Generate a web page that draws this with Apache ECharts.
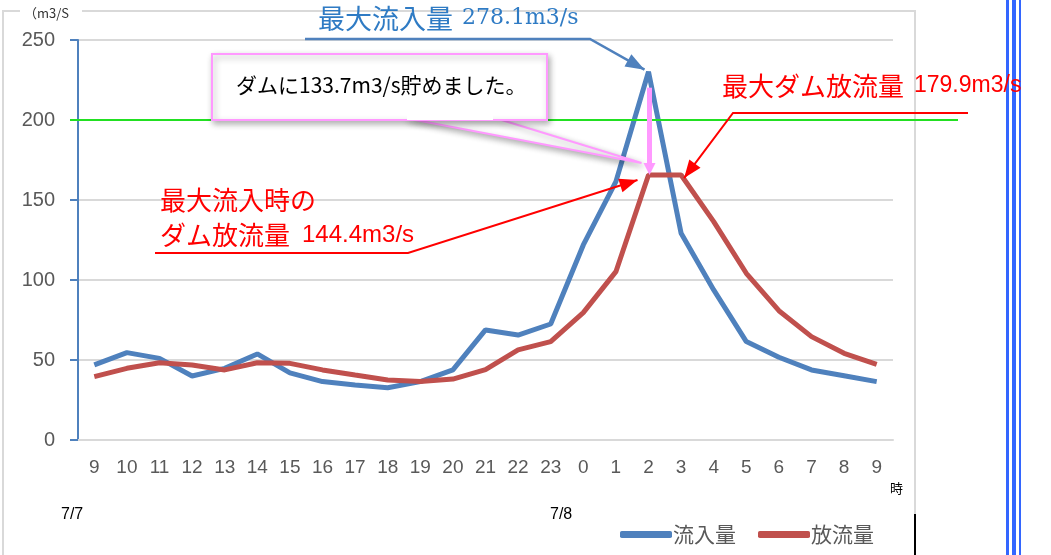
<!DOCTYPE html>
<html>
<head>
<meta charset="utf-8">
<script src="https://cdn.jsdelivr.net/npm/echarts@6/dist/echarts.min.js"></script>
<style>
  html, body { margin: 0; padding: 0; background: #fff; }
  #main { width: 1051px; height: 555px; }
</style>
</head>
<body>
<div id="main"></div>
<script>
// 時刻 (7/7 9時 〜 7/8 9時)
var hours = ["9", "10", "11", "12", "13", "14", "15", "16", "17", "18", "19", "20", "21", "22", "23",
             "0", "1", "2", "3", "4", "5", "6", "7", "8", "9"];
// 流入量 m3/s
var inflow = [46.9, 54.6, 51.0, 40.0, 44.8, 53.8, 42.0, 36.5, 34.4, 32.7, 36.5, 43.8, 68.8, 65.6, 72.5,
              121.9, 161.5, 230.2, 129.2, 93.8, 61.5, 51.7, 43.8, 40.2, 36.5];
// 放流量 m3/s
var outflow = [39.6, 44.8, 48.3, 46.9, 43.8, 48.3, 47.9, 43.8, 40.6, 37.5, 36.5, 38.1, 44.0, 56.3, 61.5,
               79.6, 105.2, 165.6, 165.6, 136.5, 104.2, 80.8, 64.6, 54.2, 47.3];
var yTicks = { min: 0, max: 250, interval: 50 };
var limitLine = 200; // 緑の線

var blue = "#4f81bd";
var red = "#c0504d";
var cjk = "'Noto Sans CJK JP', sans-serif";

var chart = echarts.init(document.getElementById("main"));

chart.setOption({
  animation: false,
  backgroundColor: "#fff",
  grid: { left: 78, right: 158, top: 40, bottom: 115 },
  legend: {
    left: 615,
    top: 519,
    itemWidth: 52,
    itemHeight: 7,
    itemGap: 22,
    icon: "roundRect",
    textStyle: { fontSize: 21, color: "#595959", fontFamily: cjk, padding: [0, 0, 0, -4] },
    data: ["流入量", "放流量"]
  },
  xAxis: {
    type: "category",
    data: hours,
    boundaryGap: true,
    axisLine: { lineStyle: { color: "#d9d9d9", width: 2 } },
    axisTick: { show: false },
    axisLabel: {
      interval: 0,
      margin: 18,
      fontSize: 19,
      color: "#595959",
      fontFamily: "'Liberation Sans Narrow', 'Liberation Sans', sans-serif"
    }
  },
  yAxis: {
    type: "value",
    min: yTicks.min,
    max: yTicks.max,
    interval: yTicks.interval,
    axisLine: { show: true, lineStyle: { color: blue, width: 2 } },
    axisTick: { show: true, length: 8, lineStyle: { color: blue, width: 2 } },
    splitLine: { lineStyle: { color: "#d9d9d9", width: 2 } },
    axisLabel: { margin: 23, fontSize: 20, color: "#595959", fontFamily: "'Liberation Sans', sans-serif" }
  },
  series: [
    {
      name: "流入量",
      type: "line",
      data: inflow,
      symbol: "none",
      color: blue,
      lineStyle: { width: 5, color: blue }
    },
    {
      name: "放流量",
      type: "line",
      data: outflow,
      symbol: "none",
      color: red,
      lineStyle: { width: 5, color: red }
    }
  ]
});

// 矢印の先端
function head(tip, from, len, wid, color) {
  var dx = tip[0] - from[0], dy = tip[1] - from[1];
  var d = Math.sqrt(dx * dx + dy * dy);
  var ux = dx / d, uy = dy / d;
  var bx = tip[0] - ux * len, by = tip[1] - uy * len;
  return {
    type: "polygon",
    z: 120,
    shape: { points: [tip, [bx - uy * wid / 2, by + ux * wid / 2], [bx + uy * wid / 2, by - ux * wid / 2]] },
    style: { fill: color }
  };
}
function pline(points, color, width, z) {
  return { type: "polyline", z: z || 110, shape: { points: points }, style: { stroke: color, lineWidth: width, fill: null } };
}

var peakIdx = inflow.indexOf(Math.max.apply(null, inflow));
var peakIn = chart.convertToPixel({ gridIndex: 0 }, [peakIdx, inflow[peakIdx]]);
var outAtPeak = chart.convertToPixel({ gridIndex: 0 }, [peakIdx, outflow[peakIdx]]);
var outMaxEnd = chart.convertToPixel({ gridIndex: 0 }, [peakIdx + 1, outflow[peakIdx + 1]]);
var yLimit = chart.convertToPixel({ gridIndex: 0 }, [0, limitLine])[1];

var blueTip = [peakIn[0] - 4, peakIn[1] - 2];
var redTip1 = [outAtPeak[0] - 11, outAtPeak[1] + 5];
var redTip2 = [outMaxEnd[0] + 3, outMaxEnd[1] + 3];
var pinkTip = [peakIn[0] + 1, outAtPeak[1]];

var g = [
  // 外枠
  { type: "polyline", z: 1, shape: { points: [[3, 555], [3, 11], [915, 11], [915, 514]] }, style: { stroke: "#d9d9d9", lineWidth: 2, fill: null } },
  { type: "line", z: 1, shape: { x1: 915, y1: 514, x2: 915, y2: 555 }, style: { stroke: "#000", lineWidth: 2 } },
  // 右端の青線
  { type: "rect", z: 1, shape: { x: 1006, y: 0, width: 3, height: 555 }, style: { fill: "#3366ff" } },
  { type: "rect", z: 1, shape: { x: 1012, y: 0, width: 4, height: 555 }, style: { fill: "#3366ff" } },
  { type: "rect", z: 1, shape: { x: 1019, y: 0, width: 2, height: 555 }, style: { fill: "#3366ff" } },
  // 単位
  { type: "rect", z: 2, shape: { x: 20, y: 4, width: 62, height: 20 }, style: { fill: "#fff" } },
  { type: "text", z: 3, left: 24, top: 7, style: { text: "（m3/S", fontSize: 13, fill: "#333", fontFamily: cjk } },
  { type: "text", z: 3, left: 890, top: 482, style: { text: "時", fontSize: 13, fill: "#000", fontFamily: cjk } },
  { type: "text", z: 3, left: 61, top: 507, style: { text: "7/7", fontSize: 16, fill: "#000", fontFamily: "'Liberation Sans', sans-serif" } },
  { type: "text", z: 3, left: 550, top: 507, style: { text: "7/8", fontSize: 16, fill: "#000", fontFamily: "'Liberation Sans', sans-serif" } },
  // 緑の線 (200 m3/s)
  { type: "line", z: 50, shape: { x1: 70, y1: yLimit, x2: 958, y2: yLimit }, style: { stroke: "#22e022", lineWidth: 2 } },

  // 最大流入量
  {
    type: "text", z: 130, left: 318, top: 5,
    style: {
      text: "{a|最大流入量}{b|278.1m3/s}",
      rich: {
        a: { fontSize: 27, fill: "#2f7bc4", fontFamily: cjk },
        b: { fontSize: 22, fill: "#2f7bc4", fontFamily: "'DejaVu Serif', serif", padding: [0, 0, 0, 9] }
      }
    }
  },
  pline([[305, 39], [590, 39], blueTip], blue, 2.5),
  head(blueTip, [590, 39], 19, 14, blue),

  // 貯留量ボックス
  {
    type: "polygon", z: 100,
    shape: { points: [[405, 118], [495, 118], [pinkTip[0] - 8, pinkTip[1] - 12]] },
    style: { fill: "#fff", stroke: "#ff99ff", lineWidth: 2, shadowBlur: 6, shadowColor: "rgba(0,0,0,0.3)", shadowOffsetX: 2, shadowOffsetY: 3 }
  },
  {
    type: "rect", z: 101,
    shape: { x: 212, y: 54, width: 335, height: 66 },
    style: { fill: "#fff", stroke: "#ff99ff", lineWidth: 2, shadowBlur: 6, shadowColor: "rgba(0,0,0,0.3)", shadowOffsetX: 2, shadowOffsetY: 3 }
  },
  { type: "rect", z: 102, shape: { x: 407, y: 112, width: 86, height: 8 }, style: { fill: "#fff" } },
  { type: "text", z: 103, left: 236, top: 75, style: { text: "ダムに133.7m3/s貯めました。", fontSize: 21, fill: "#000", fontFamily: cjk } },
  // ピンクの矢印
  pline([[pinkTip[0], peakIn[1] + 16], [pinkTip[0], pinkTip[1] - 10]], "#ff99ff", 5, 115),
  head(pinkTip, [pinkTip[0], peakIn[1]], 12, 12, "#ff99ff"),

  // 最大ダム放流量
  {
    type: "text", z: 130, left: 722, top: 73,
    style: {
      text: "{a|最大ダム放流量}{b|179.9m3/s}",
      rich: {
        a: { fontSize: 26, fill: "#ff0000", fontFamily: cjk },
        b: { fontSize: 23, fill: "#ff0000", fontFamily: "'Liberation Sans', sans-serif", padding: [0, 0, 0, 10] }
      }
    }
  },
  pline([[968, 113], [733, 113], redTip2], "#ff0000", 2),
  head(redTip2, [733, 113], 18, 14, "#ff0000"),

  // 最大流入時の放流量
  { type: "text", z: 130, left: 160, top: 187, style: { text: "最大流入時の", fontSize: 26, fill: "#ff0000", fontFamily: cjk } },
  {
    type: "text", z: 130, left: 160, top: 222,
    style: {
      text: "{a|ダム放流量}{b|144.4m3/s}",
      rich: {
        a: { fontSize: 26, fill: "#ff0000", fontFamily: cjk },
        b: { fontSize: 24, fill: "#ff0000", fontFamily: "'Liberation Sans', sans-serif", padding: [0, 0, 0, 12] }
      }
    }
  },
  pline([[155, 253], [408, 253], redTip1], "#ff0000", 2),
  head(redTip1, [408, 253], 18, 14, "#ff0000")
];

chart.setOption({ graphic: g });
</script>
</body>
</html>
